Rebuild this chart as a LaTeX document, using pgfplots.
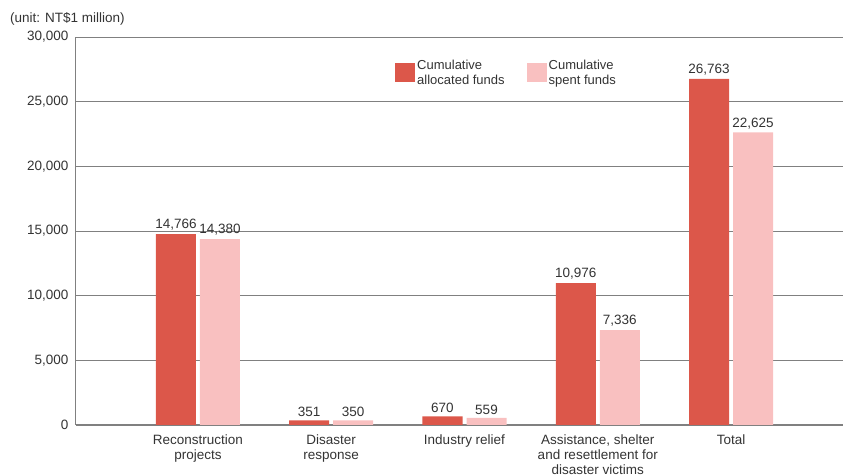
\documentclass[border=0pt]{standalone}
\usepackage{pgfplots}
\pgfplotsset{compat=1.18}
\usepackage{fontspec}
\setmainfont{Liberation Sans}
\definecolor{darkred}{HTML}{DC574A}
\definecolor{lightpink}{HTML}{F9C0C0}
\definecolor{txt}{HTML}{333333}
\definecolor{gridc}{HTML}{808080}
\begin{document}
\begin{tikzpicture}
\begin{axis}[
  scale only axis, width=767pt, height=388pt,
  ymin=0, ymax=30000, xmin=0.085, xmax=5.84,
  ybar=4pt, bar width=40pt,
  axis lines*=left,
  axis line style={gridc, line width=1pt},
  ymajorgrids, grid style={gridc, line width=0.9pt},
  ytick={0,5000,10000,15000,20000,25000,30000},
  xtick={1,2,3,4,5},
  xticklabels={Reconstruction\\projects, Disaster\\response, Industry relief, {Assistance, shelter\\and resettlement for\\disaster victims}, Total},
  major tick length=0pt,
  scaled y ticks=false,
  /pgf/number format/.cd, assume math mode=true, 1000 sep={,}, fixed, /pgfplots/.cd,
  tick label style={font=\fontsize{13.5}{15}\selectfont, text=txt},
  xticklabel style={align=center, yshift=-6pt},
  yticklabel style={xshift=-4pt},
  nodes near coords,
  every node near coord/.append style={font=\fontsize{13.5}{16}\selectfont, text=txt},
  legend style={draw=none, fill=none, at={(axis description cs:0.412,0.952)}, anchor=north west,
    legend columns=2, font=\fontsize{13}{15}\selectfont,
    nodes={align=left, text=txt},
    /tikz/every even column/.append style={column sep=20pt}},
  legend image code/.code={\fill[#1] (0pt,-9.5pt) rectangle (20pt,9.5pt);},
]
\addplot[fill=darkred, draw=none] coordinates {(1,14766) (2,351) (3,670) (4,10976) (5,26763)};
\addlegendentry{Cumulative\\allocated funds}
\addplot[fill=lightpink, draw=none] coordinates {(1,14380) (2,350) (3,559) (4,7336) (5,22625)};
\addlegendentry{Cumulative\\spent funds}
\end{axis}
\node[anchor=base west, inner sep=0pt, text=txt, font=\fontsize{13.5}{16}\selectfont] at ([shift={(-66pt,14pt)}]current axis.north west) {(unit: NT\$1 million)};
\pgfresetboundingbox
\useasboundingbox ([shift={(-76pt,-50pt)}]current axis.south west) rectangle ([shift={(0pt,37pt)}]current axis.north east);
\end{tikzpicture}
\end{document}
